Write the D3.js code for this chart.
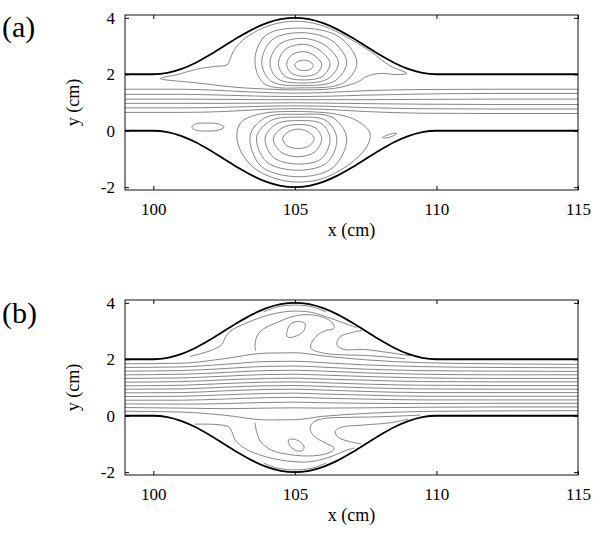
<!DOCTYPE html>
<html>
<head>
<meta charset="utf-8">
<script src="https://cdn.jsdelivr.net/npm/d3@7"></script>
<style>
	body { margin: 0; background: #fff; }
	svg, svg text { font-family: "Liberation Serif", "Times New Roman", serif; }
	svg { display: block; }
	.tick text { font-size: 17px; fill: #000; }
	.tick line { stroke: #000; }
</style>
</head>
<body>
<script>

// axis ticks
var xTicks = [100, 105, 110, 115];
var yTicks = [-2, 0, 2, 4];

// channel walls (cm)
var wallX = [99, 100, 100.5, 101, 101.5, 102, 102.5, 103, 103.5, 104, 104.5, 105,
	105.5, 106, 106.5, 107, 107.5, 108, 108.5, 109, 109.5, 110, 115];
var wallTop = [2, 2, 2.05, 2.19, 2.41, 2.69, 3.00, 3.31, 3.59, 3.81, 3.95, 4.00,
	3.95, 3.81, 3.59, 3.31, 3.00, 2.69, 2.41, 2.19, 2.05, 2, 2];
var wallBottom = [0, 0, -0.05, -0.19, -0.41, -0.69, -1.00, -1.31, -1.59, -1.81, -1.95, -2.00,
	-1.95, -1.81, -1.59, -1.31, -1.00, -0.69, -0.41, -0.19, -0.05, 0, 0];

// x stations of the through-flow streamlines
var stationX = [99, 101, 102.5, 104, 105, 106, 107.5, 109.5, 112, 115];

// (a) through-flow streamlines, y at each station
var throughA = [
	[1.47, 1.47, 1.42, 1.35, 1.33, 1.35, 1.42, 1.46, 1.47, 1.47],
	[1.29, 1.29, 1.26, 1.22, 1.21, 1.22, 1.26, 1.30, 1.32, 1.32],
	[1.12, 1.12, 1.11, 1.10, 1.10, 1.10, 1.10, 1.11, 1.12, 1.12],
	[0.97, 0.97, 0.97, 0.98, 0.99, 0.98, 0.96, 0.94, 0.93, 0.93],
	[0.81, 0.81, 0.83, 0.87, 0.88, 0.87, 0.82, 0.78, 0.77, 0.77],
	[0.65, 0.65, 0.68, 0.76, 0.78, 0.76, 0.68, 0.62, 0.61, 0.61]
];

// (a) closed streamlines: upper vortex, its envelope, lower vortex, small eddies
var loopsA = [
	[[105.65,2.32],[105.52,2.45],[105.33,2.50],[105.1,2.45],[105.0,2.32],[105.1,2.18],[105.33,2.13],[105.56,2.18]],
	[[105.95,2.35],[105.72,2.64],[105.33,2.80],[104.88,2.68],[104.71,2.35],[104.88,2.04],[105.33,1.93],[105.78,2.04]],
	[[106.24,2.38],[105.92,2.82],[105.33,3.06],[104.66,2.88],[104.42,2.38],[104.65,1.93],[105.33,1.80],[105.98,1.93]],
	[[106.54,2.40],[106.12,2.99],[105.33,3.27],[104.45,3.06],[104.12,2.40],[104.4,1.84],[105.33,1.69],[106.18,1.85]],
	[[106.83,2.42],[106.35,3.16],[105.33,3.47],[104.22,3.24],[103.83,2.45],[104.15,1.76],[105.33,1.60],[106.42,1.77]],
	[[107.19,2.40],[106.6,3.30],[105.4,3.63],[104.0,3.40],[103.59,2.55],[103.9,1.68],[105.33,1.52],[106.72,1.70]],
	[[100.25,1.85],[100.9,2.0],[101.53,2.18],[102.2,2.28],[102.6,2.33],[102.72,2.55],[102.82,2.8],[103.06,3.12],
	 [103.5,3.45],[104.2,3.76],[105,3.88],[105.7,3.80],[106.4,3.55],[107.0,3.22],[107.66,2.82],[108.36,2.30],
	 [108.95,2.03],[108.6,1.99],[108.0,2.03],[107.55,1.93],[107.2,1.72],[106.4,1.50],[105,1.45],[103.5,1.50],
	 [102.7,1.56],[101.5,1.70]],
	[[105.68,-0.28],[105.52,-0.07],[105.12,0.06],[104.72,-0.07],[104.57,-0.28],[104.72,-0.53],[105.12,-0.63],[105.52,-0.53]],
	[[105.95,-0.28],[105.72,0.10],[105.12,0.22],[104.55,0.10],[104.24,-0.28],[104.5,-0.75],[105.12,-0.92],[105.7,-0.75]],
	[[106.24,-0.28],[105.95,0.24],[105.12,0.36],[104.35,0.24],[103.95,-0.25],[104.25,-0.95],[105.12,-1.18],[105.95,-0.98]],
	[[106.48,-0.28],[106.1,0.36],[105.12,0.48],[104.15,0.36],[103.65,-0.22],[104.0,-1.1],[105.12,-1.40],[106.15,-1.12]],
	[[106.83,-0.28],[106.35,0.46],[105.12,0.58],[103.95,0.46],[103.42,-0.18],[103.8,-1.25],[105.12,-1.63],[106.35,-1.30]],
	[[107.65,-0.08],[107.2,0.35],[106.5,0.58],[105.12,0.68],[103.8,0.60],[103.1,0.30],[102.95,-0.15],[103.1,-0.75],
	 [103.6,-1.35],[104.4,-1.72],[105.12,-1.82],[105.9,-1.72],[106.6,-1.40],[107.1,-1.05],[107.55,-0.55]],
	[[102.5,0.13],[102.3,0.24],[101.93,0.27],[101.5,0.24],[101.36,0.13],[101.5,0.02],[101.93,-0.01],[102.3,0.02]],
	[[108.6,-0.09],[108.45,-0.10],[108.2,-0.18],[108.1,-0.24],[108.25,-0.25],[108.5,-0.17]]
];
var openA = [];

// (b) through-flow streamlines, y at each station
var throughB = [
	[1.84, 1.86, 2.02, 2.22, 2.23, 2.12, 1.98, 1.88, 1.84, 1.82],
	[1.71, 1.73, 1.82, 1.92, 1.93, 1.88, 1.80, 1.74, 1.71, 1.70],
	[1.58, 1.60, 1.67, 1.75, 1.76, 1.72, 1.65, 1.60, 1.58, 1.57],
	[1.45, 1.47, 1.53, 1.60, 1.61, 1.58, 1.52, 1.47, 1.45, 1.45],
	[1.32, 1.34, 1.40, 1.46, 1.47, 1.44, 1.39, 1.34, 1.32, 1.32],
	[1.19, 1.21, 1.27, 1.32, 1.33, 1.30, 1.26, 1.21, 1.20, 1.20],
	[1.06, 1.08, 1.14, 1.19, 1.20, 1.17, 1.12, 1.08, 1.07, 1.07],
	[0.94, 0.95, 1.01, 1.06, 1.07, 1.04, 0.99, 0.95, 0.94, 0.94],
	[0.81, 0.82, 0.88, 0.93, 0.94, 0.91, 0.86, 0.82, 0.82, 0.82],
	[0.68, 0.69, 0.74, 0.79, 0.80, 0.77, 0.73, 0.69, 0.69, 0.69],
	[0.55, 0.55, 0.59, 0.64, 0.65, 0.62, 0.59, 0.56, 0.56, 0.56],
	[0.42, 0.41, 0.43, 0.47, 0.48, 0.46, 0.44, 0.43, 0.44, 0.44],
	[0.29, 0.27, 0.25, 0.27, 0.28, 0.27, 0.28, 0.30, 0.31, 0.31],
	[0.16, 0.13, 0.02, -0.15, -0.14, -0.02, 0.08, 0.15, 0.17, 0.18]
];

// (b) small closed eddies
var loopsB = [
	[[104.71,2.87],[104.83,3.23],[105.13,3.34],[105.36,3.25],[105.30,2.99],[105.01,2.81],[104.77,2.78]],
	[[104.77,-0.86],[104.95,-0.83],[105.18,-0.92],[105.33,-1.12],[105.24,-1.25],[105.01,-1.22],[104.81,-1.04]]
];

// (b) open streamlines in the bulge
var openB = [
	[[101.30,2.10],[102.00,2.30],[102.42,2.52],[102.53,2.75],[102.71,2.99],[103.30,3.29],[104.12,3.58],
	 [104.83,3.70],[105.54,3.67],[106.24,3.46],[106.95,3.20],[107.2,3.12]],
	[[103.62,2.30],[103.59,2.50],[103.69,2.87],[103.98,3.13],[104.42,3.32],[104.83,3.49],[105.36,3.58],
	 [105.89,3.52],[106.30,3.32],[106.39,3.11],[106.01,2.99],[105.68,2.73],[105.56,2.40],[105.95,2.23],
	 [106.6,2.16],[107.42,2.14],[108.36,2.07],[108.9,2.02]],
	[[107.38,3.03],[106.95,2.93],[106.6,2.80],[106.48,2.53],[106.72,2.35],[107.42,2.35],[108.36,2.23],[109.1,2.12]],
	[[103.9,3.68],[104.4,3.86],[105,3.92],[105.6,3.86],[106.1,3.68]],
	[[101.45,-0.30],[102.65,-0.39],[102.80,-0.63],[102.89,-0.86],[103.24,-1.16],[103.89,-1.43],[104.71,-1.60],
	 [105.54,-1.63],[106.24,-1.46],[106.83,-1.22],[107.1,-1.14]],
	[[103.59,-0.25],[103.65,-0.57],[103.79,-0.92],[104.18,-1.22],[104.83,-1.38],[105.66,-1.42],[106.24,-1.30],
	 [106.39,-1.15],[106.07,-0.96],[105.71,-0.75],[105.54,-0.49],[105.63,-0.25],[106.01,-0.10],[106.83,-0.06],
	 [107.89,-0.04],[109.42,0.02]],
	[[107.35,-1.00],[106.95,-0.92],[106.54,-0.77],[106.42,-0.57],[106.6,-0.42],[107.42,-0.33],[108.36,-0.25],[109.0,-0.12]],
	[[103.9,-1.68],[104.4,-1.86],[105,-1.92],[105.6,-1.86],[106.1,-1.68]]
];

var svg = d3.select("body")
	.append("svg")
	.attr("width", 600)
	.attr("height", 536);

drawPanel(15, "(a)", 37, throughA, loopsA, openA);
drawPanel(300, "(b)", 323, throughB, loopsB, openB);

function drawPanel(top, label, labelY, through, loops, open){

	var plotH = 175;

	var x = d3.scaleLinear().domain([99, 115]).range([125, 578]);
	var y = d3.scaleLinear().domain([-2.1, 4.1]).range([top + plotH, top]);

	var g = svg.append("g");

	// line generators
	var smooth = d3.line()
		.x(function(d){ return x(d[0]); })
		.y(function(d){ return y(d[1]); })
		.curve(d3.curveMonotoneX);
	var closed = d3.line()
		.x(function(d){ return x(d[0]); })
		.y(function(d){ return y(d[1]); })
		.curve(d3.curveCatmullRomClosed.alpha(0.5));
	var curvy = d3.line()
		.x(function(d){ return x(d[0]); })
		.y(function(d){ return y(d[1]); })
		.curve(d3.curveCatmullRom.alpha(0.5));

	// through-flow streamlines
	g.selectAll(".through")
		.data(through)
		.enter()
		.append("path")
		.attr("class", "through")
		.attr("d", function(s){
			return smooth(stationX.map(function(sx, i){ return [sx, s[i]]; }));
		})
		.attr("fill", "none")
		.attr("stroke", "#666")
		.attr("stroke-width", 0.8);

	// closed streamlines
	g.selectAll(".loop")
		.data(loops)
		.enter()
		.append("path")
		.attr("class", "loop")
		.attr("d", closed)
		.attr("fill", "none")
		.attr("stroke", "#666")
		.attr("stroke-width", 0.8);

	// open streamlines
	g.selectAll(".open")
		.data(open)
		.enter()
		.append("path")
		.attr("class", "open")
		.attr("d", curvy)
		.attr("fill", "none")
		.attr("stroke", "#666")
		.attr("stroke-width", 0.8);

	// walls
	[wallTop, wallBottom].forEach(function(w){
		g.append("path")
			.attr("d", smooth(wallX.map(function(wx, i){ return [wx, w[i]]; })))
			.attr("fill", "none")
			.attr("stroke", "#000")
			.attr("stroke-width", 1.8);
	});

	// axes, ticks pointing inward
	var axes = [
		g.append("g")
			.attr("transform", "translate(0," + (top + plotH) + ")")
			.call(d3.axisBottom(x).tickValues(xTicks).tickSize(-4).tickPadding(13).tickFormat(String)),
		g.append("g")
			.attr("transform", "translate(0," + top + ")")
			.call(d3.axisTop(x).tickValues(xTicks).tickSize(-4).tickFormat("")),
		g.append("g")
			.attr("transform", "translate(125,0)")
			.call(d3.axisLeft(y).tickValues(yTicks).tickSize(-4).tickPadding(10).tickFormat(String)),
		g.append("g")
			.attr("transform", "translate(578,0)")
			.call(d3.axisRight(y).tickValues(yTicks).tickSize(-4).tickFormat(""))
	];
	axes.forEach(function(a){
		a.attr("font-family", null).attr("font-size", null);
		a.select(".domain").remove();
	});

	// frame
	g.append("rect")
		.attr("x", 125)
		.attr("y", top)
		.attr("width", 578 - 125)
		.attr("height", plotH)
		.attr("fill", "none")
		.attr("stroke", "#111")
		.attr("stroke-width", 1);

	// axis titles
	g.append("text")
		.attr("x", 351.5)
		.attr("y", top + plotH + 46)
		.attr("text-anchor", "middle")
		.attr("font-size", 18)
		.text("x (cm)");
	g.append("text")
		.attr("transform", "translate(79," + (top + plotH / 2) + ") rotate(-90)")
		.attr("text-anchor", "middle")
		.attr("font-size", 18)
		.text("y (cm)");

	// panel label
	svg.append("text")
		.attr("x", 2)
		.attr("y", labelY)
		.attr("font-size", 30)
		.text(label);
};

</script>
</body>
</html>
